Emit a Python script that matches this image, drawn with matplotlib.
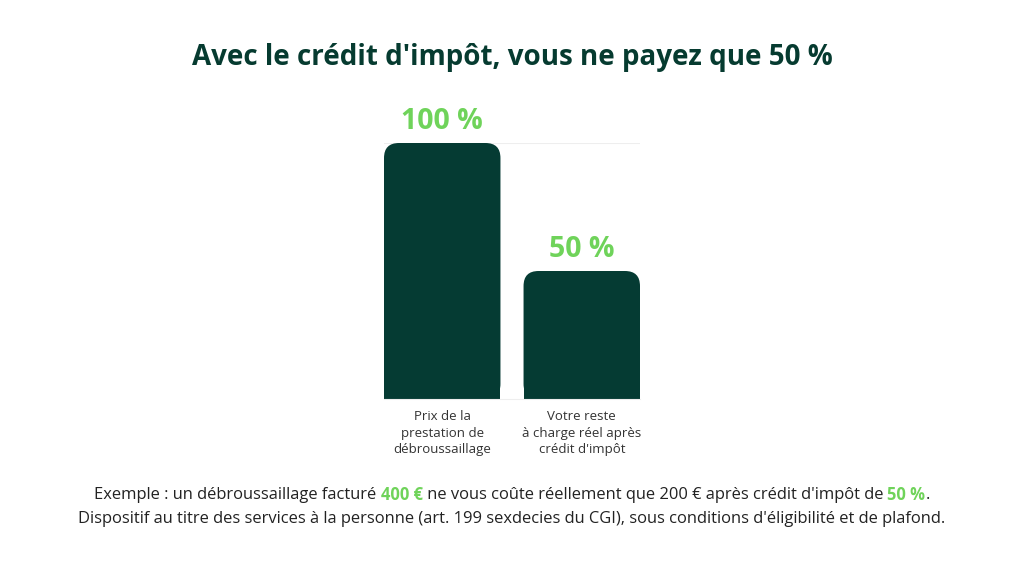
import matplotlib
matplotlib.use("Agg")
import matplotlib.pyplot as plt
from matplotlib.patches import FancyBboxPatch

plt.rcParams['font.family'] = ['Open Sans', 'DejaVu Sans']

# data
categories = ["Prix de la\nprestation de\ndébroussaillage",
              "Votre reste\nà charge réel après\ncrédit d'impôt"]
values = [100, 50]
value_labels = ["100 %", "50 %"]
title = "Avec le crédit d'impôt, vous ne payez que 50 %"
footer_lines = [
    [("Exemple : un débroussaillage facturé ", False), ("400 €", True),
     (" ne vous coûte réellement que 200 € après crédit d'impôt de ", False),
     ("50 %", True), (".", False)],
    [("Dispositif au titre des services à la personne (art. 199 sexdecies du CGI), "
      "sous conditions d'éligibilité et de plafond.", False)],
]

DARK = "#053b33"
LIGHT = "#6fd35a"
TEXT = "#222222"

W, H = 1024, 576
fig = plt.figure(figsize=(W / 100, H / 100), dpi=100)
fig.patch.set_facecolor("white")

ax = fig.add_axes([384 / W, 1 - 399 / H, 256 / W, 256 / H])
width = 116 / 139
bars = ax.bar(range(len(values)), values, width=width, color=DARK, zorder=2)
ax.set_xlim(-width / 2, len(values) - 1 + width / 2)
ax.set_ylim(0, 100)

# rounded tops
xu = (ax.get_xlim()[1] - ax.get_xlim()[0]) / 256
yu = 100 / 256
r = 15 * xu
for b in bars:
    x0, w, h = b.get_x(), b.get_width(), b.get_height()
    b.set_height(h / 2)
    ax.add_patch(FancyBboxPatch((x0, 0), w, h, boxstyle=f"round,pad=0,rounding_size={r}",
                                mutation_aspect=yu / xu, fc=DARK, ec="none", zorder=2))

for i, (v, lab) in enumerate(zip(values, value_labels)):
    ax.annotate(lab, (i, v), xytext=(0, 5), textcoords="offset points",
                ha="center", va="bottom", fontsize=20.5, fontweight="bold", color=LIGHT)

ax.set_yticks([100])
ax.yaxis.grid(True, color="#eeeeee", lw=0.8, zorder=0)
ax.tick_params(axis="y", left=False, labelleft=False)
ax.set_xticks(range(len(values)))
ax.set_xticklabels(categories, fontsize=9.5, color="#333333", linespacing=1.35)
ax.tick_params(axis="x", length=0, pad=8)
for s in ["top", "left", "right"]:
    ax.spines[s].set_visible(False)
ax.spines["bottom"].set_color("#eeeeee")
ax.set_facecolor("none")

fig.text(0.5, 1 - 58 / H, title, ha="center", va="center", fontsize=20,
         fontweight="bold", color="#063b30")

# footer with coloured segments
renderer = fig.canvas.get_renderer()
for li, segs in enumerate(footer_lines):
    y = 1 - (495 + li * 24) / H
    texts = []
    for s, hl in segs:
        t = fig.text(0, y, s, ha="left", va="center", fontsize=11.9,
                     color=LIGHT if hl else TEXT, fontweight="bold" if hl else "normal")
        texts.append(t)
    widths = [t.get_window_extent(renderer).width for t in texts]
    x = (W - sum(widths)) / 2
    for t, w in zip(texts, widths):
        t.set_x(x / W)
        x += w

fig.savefig("out.png", dpi=100, facecolor="white")
